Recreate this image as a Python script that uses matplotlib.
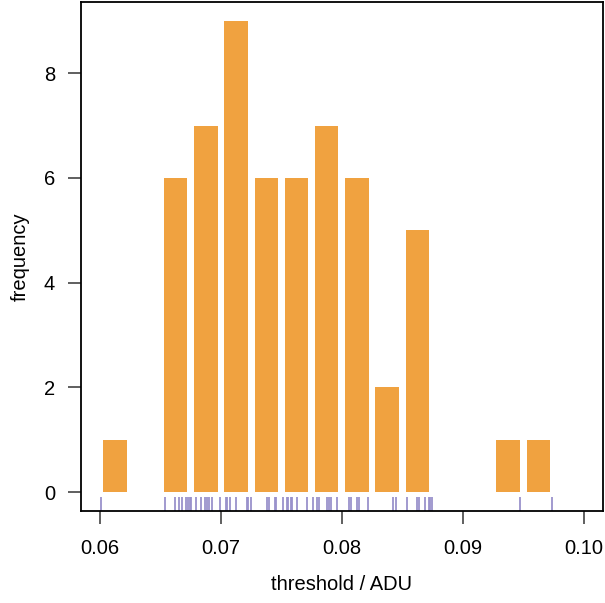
import matplotlib
matplotlib.use('Agg')
import matplotlib.pyplot as plt
import numpy as np

# 直方图分箱和计数
bin_edges = [0.0600, 0.0625, 0.0650, 0.0675, 0.0700, 0.0725, 0.0750, 0.0775,
             0.0800, 0.0825, 0.0850, 0.0875, 0.0900, 0.0925, 0.0950, 0.0975]
counts = [1, 0, 6, 7, 9, 6, 6, 7, 6, 2, 5, 0, 0, 1, 1]

# 原始阈值（地毯图）
thresholds = [0.06006, 0.06535, 0.06617, 0.06655, 0.06678, 0.06711, 0.06727,
              0.06744, 0.06752, 0.06793, 0.06835, 0.06870, 0.06882, 0.06898,
              0.06926, 0.06992, 0.07041, 0.07052, 0.07074, 0.07124, 0.07215,
              0.07227, 0.07245, 0.07378, 0.07394, 0.07444, 0.07455, 0.07510,
              0.07543, 0.07554, 0.07581, 0.07587, 0.07631, 0.07713, 0.07758,
              0.07791, 0.07807, 0.07874, 0.07890, 0.07912, 0.07961, 0.08060,
              0.08077, 0.08126, 0.08143, 0.08215, 0.08419, 0.08446, 0.08540,
              0.08622, 0.08639, 0.08688, 0.08721, 0.08733, 0.08744, 0.09477,
              0.09736]

plt.rcParams['font.family'] = ['Liberation Sans', 'DejaVu Sans']
plt.rcParams['font.size'] = 14.5

fig = plt.figure(figsize=(6.05, 6.03), dpi=100)
ax = fig.add_axes([0.1334, 0.1526, 0.8633, 0.844])

edges = np.array(bin_edges)
centers = (edges[:-1] + edges[1:]) / 2
width = (edges[1] - edges[0]) * 0.775
ax.bar(centers, counts, width=width, color='#f0a240', edgecolor='none')

# 地毯图
ax.vlines(thresholds, 0, 0.028, transform=ax.get_xaxis_transform(),
          color='#9a92cc', linewidth=1.3)

ax.set_xlim(0.0584, 0.1016)
ax.set_ylim(-0.36, 9.36)
ax.set_xticks([0.06, 0.07, 0.08, 0.09, 0.10])
ax.set_xticklabels(['0.06', '0.07', '0.08', '0.09', '0.10'])
ax.set_yticks([0, 2, 4, 6, 8])

ax.tick_params(length=9.5, width=1.2, color='#444444', pad=9)
ax.tick_params(axis='x', pad=11)
for s in ax.spines.values():
    s.set_linewidth(1.3)
    s.set_color('black')

ax.set_xlabel('threshold / ADU', labelpad=12)
ax.set_ylabel('frequency', labelpad=10)

fig.savefig('out.png', dpi=100)
